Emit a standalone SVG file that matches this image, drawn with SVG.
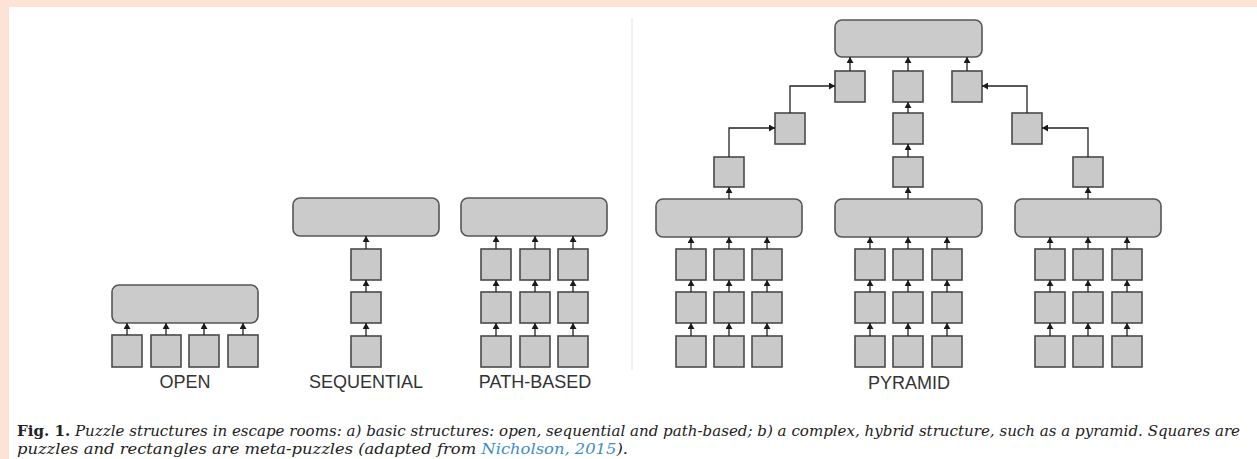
<svg xmlns="http://www.w3.org/2000/svg" width="1257" height="459" viewBox="0 0 1257 459">
<defs>
<marker id="ah" markerUnits="userSpaceOnUse" markerWidth="7" markerHeight="7" refX="6" refY="3.5" orient="auto">
<path d="M0,0 L6,3.5 L0,7 z" fill="#1a1a1a"/>
</marker>
<style>
.sq{fill:#c9c9c9;stroke:#4a4a4a;stroke-width:1.6}
.mr{fill:#cbcbcb;stroke:#555;stroke-width:1.6}
.ar{fill:none;stroke:#222;stroke-width:1.3;marker-end:url(#ah)}
.lbl{font-family:"Liberation Sans",Arial,sans-serif;font-size:18px;fill:#333;text-anchor:middle}
.cap{font-family:"DejaVu Serif","Liberation Serif",serif;font-size:15px;fill:#222}
</style>
</defs>
<rect x="0" y="0" width="1257" height="459" fill="#fce3d6"/>
<rect x="9" y="7" width="1248" height="452" fill="#ffffff"/>
<line x1="632" y1="18" x2="632" y2="370" stroke="#e2e2e2" stroke-width="1"/>

<g id="open">
<rect class="mr" x="112" y="285" width="146" height="38" rx="7"/>
<rect class="sq" x="112" y="335" width="30" height="32"/>
<rect class="sq" x="151" y="335" width="30" height="32"/>
<rect class="sq" x="189" y="335" width="30" height="32"/>
<rect class="sq" x="228" y="335" width="30" height="32"/>
<text class="lbl" x="185" y="388">OPEN</text>
</g>

<g id="sequential">
<rect class="mr" x="293" y="198" width="146" height="38" rx="7"/>
<rect class="sq" x="351" y="249" width="30" height="31"/>
<rect class="sq" x="351" y="292" width="30" height="31"/>
<rect class="sq" x="351" y="336" width="30" height="31"/>
<text class="lbl" x="366" y="388">SEQUENTIAL</text>
</g>

<g id="path-based">
<rect class="mr" x="461" y="198" width="146" height="38" rx="7"/>
<rect class="sq" x="481" y="249" width="30" height="31"/>
<rect class="sq" x="520" y="249" width="30" height="31"/>
<rect class="sq" x="558" y="249" width="30" height="31"/>
<rect class="sq" x="481" y="292" width="30" height="31"/>
<rect class="sq" x="520" y="292" width="30" height="31"/>
<rect class="sq" x="558" y="292" width="30" height="31"/>
<rect class="sq" x="481" y="336" width="30" height="31"/>
<rect class="sq" x="520" y="336" width="30" height="31"/>
<rect class="sq" x="558" y="336" width="30" height="31"/>
<text class="lbl" x="535" y="388">PATH-BASED</text>
</g>

<g id="pyramid">
<rect class="mr" x="835" y="20" width="147" height="37" rx="7"/>
<rect class="sq" x="835" y="71" width="30" height="31"/>
<rect class="sq" x="893" y="71" width="30" height="31"/>
<rect class="sq" x="952" y="71" width="30" height="31"/>
<rect class="sq" x="775" y="113" width="30" height="31"/>
<rect class="sq" x="893" y="113" width="30" height="31"/>
<rect class="sq" x="1012" y="113" width="30" height="31"/>
<rect class="sq" x="714" y="157" width="30" height="30"/>
<rect class="sq" x="893" y="157" width="30" height="30"/>
<rect class="sq" x="1073" y="157" width="30" height="30"/>

<rect class="mr" x="656" y="199" width="146" height="38" rx="7"/>
<rect class="mr" x="835" y="199" width="147" height="38" rx="7"/>
<rect class="mr" x="1015" y="199" width="146" height="38" rx="7"/>

<rect class="sq" x="676" y="249" width="30" height="31"/>
<rect class="sq" x="714" y="249" width="30" height="31"/>
<rect class="sq" x="752" y="249" width="30" height="31"/>
<rect class="sq" x="676" y="292" width="30" height="31"/>
<rect class="sq" x="714" y="292" width="30" height="31"/>
<rect class="sq" x="752" y="292" width="30" height="31"/>
<rect class="sq" x="676" y="336" width="30" height="31"/>
<rect class="sq" x="714" y="336" width="30" height="31"/>
<rect class="sq" x="752" y="336" width="30" height="31"/>

<rect class="sq" x="855" y="249" width="30" height="31"/>
<rect class="sq" x="893" y="249" width="30" height="31"/>
<rect class="sq" x="932" y="249" width="30" height="31"/>
<rect class="sq" x="855" y="292" width="30" height="31"/>
<rect class="sq" x="893" y="292" width="30" height="31"/>
<rect class="sq" x="932" y="292" width="30" height="31"/>
<rect class="sq" x="855" y="336" width="30" height="31"/>
<rect class="sq" x="893" y="336" width="30" height="31"/>
<rect class="sq" x="932" y="336" width="30" height="31"/>

<rect class="sq" x="1035" y="249" width="30" height="31"/>
<rect class="sq" x="1073" y="249" width="30" height="31"/>
<rect class="sq" x="1112" y="249" width="30" height="31"/>
<rect class="sq" x="1035" y="292" width="30" height="31"/>
<rect class="sq" x="1073" y="292" width="30" height="31"/>
<rect class="sq" x="1112" y="292" width="30" height="31"/>
<rect class="sq" x="1035" y="336" width="30" height="31"/>
<rect class="sq" x="1073" y="336" width="30" height="31"/>
<rect class="sq" x="1112" y="336" width="30" height="31"/>
<text class="lbl" x="909" y="389">PYRAMID</text>
</g>

<g id="connectors">
<path class="ar" d="M127,335 V323"/>
<path class="ar" d="M166,335 V323"/>
<path class="ar" d="M204,335 V323"/>
<path class="ar" d="M243,335 V323"/>

<path class="ar" d="M366,249 V236"/>
<path class="ar" d="M366,292 V280"/>
<path class="ar" d="M366,336 V323"/>

<path class="ar" d="M496,249 V236"/>
<path class="ar" d="M535,249 V236"/>
<path class="ar" d="M573,249 V236"/>
<path class="ar" d="M496,292 V280"/>
<path class="ar" d="M535,292 V280"/>
<path class="ar" d="M573,292 V280"/>
<path class="ar" d="M496,336 V323"/>
<path class="ar" d="M535,336 V323"/>
<path class="ar" d="M573,336 V323"/>

<path class="ar" d="M850,71 V57"/>
<path class="ar" d="M908,71 V57"/>
<path class="ar" d="M967,71 V57"/>
<path class="ar" d="M908,113 V102"/>
<path class="ar" d="M908,157 V144"/>
<path class="ar" d="M729,157 V128 H775"/>
<path class="ar" d="M790,113 V86 H835"/>
<path class="ar" d="M1088,157 V128 H1042"/>
<path class="ar" d="M1027,113 V86 H982"/>
<path class="ar" d="M729,199 V187"/>
<path class="ar" d="M908,199 V187"/>
<path class="ar" d="M1088,199 V187"/>

<path class="ar" d="M691,249 V237"/>
<path class="ar" d="M729,249 V237"/>
<path class="ar" d="M767,249 V237"/>
<path class="ar" d="M691,292 V280"/>
<path class="ar" d="M729,292 V280"/>
<path class="ar" d="M767,292 V280"/>
<path class="ar" d="M691,336 V323"/>
<path class="ar" d="M729,336 V323"/>
<path class="ar" d="M767,336 V323"/>

<path class="ar" d="M870,249 V237"/>
<path class="ar" d="M908,249 V237"/>
<path class="ar" d="M947,249 V237"/>
<path class="ar" d="M870,292 V280"/>
<path class="ar" d="M908,292 V280"/>
<path class="ar" d="M947,292 V280"/>
<path class="ar" d="M870,336 V323"/>
<path class="ar" d="M908,336 V323"/>
<path class="ar" d="M947,336 V323"/>

<path class="ar" d="M1050,249 V237"/>
<path class="ar" d="M1088,249 V237"/>
<path class="ar" d="M1127,249 V237"/>
<path class="ar" d="M1050,292 V280"/>
<path class="ar" d="M1088,292 V280"/>
<path class="ar" d="M1127,292 V280"/>
<path class="ar" d="M1050,336 V323"/>
<path class="ar" d="M1088,336 V323"/>
<path class="ar" d="M1127,336 V323"/>
</g>

<g id="caption">
<text class="cap" x="17" y="436" textLength="1223" lengthAdjust="spacingAndGlyphs"><tspan font-weight="bold" font-style="normal">Fig. 1.</tspan><tspan font-style="italic"> Puzzle structures in escape rooms: a) basic structures: open, sequential and path-based; b) a complex, hybrid structure, such as a pyramid. Squares are</tspan></text>
<text class="cap" x="17" y="454" font-style="italic" textLength="611" lengthAdjust="spacingAndGlyphs">puzzles and rectangles are meta-puzzles (adapted from <tspan fill="#3b8ec4">Nicholson, 2015</tspan>).</text>
</g>
</svg>
